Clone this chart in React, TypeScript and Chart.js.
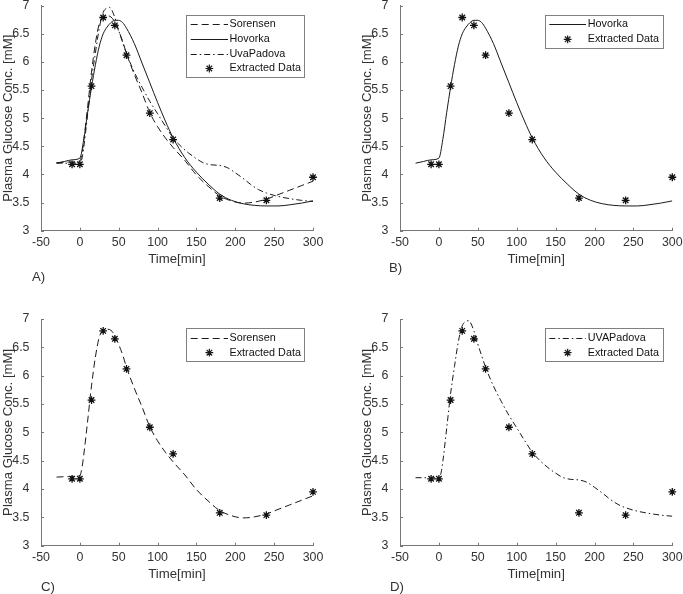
import React, { useEffect, useRef } from 'react';
import { Chart, registerables } from 'chart.js';

Chart.register(...registerables);

// ---------- data ----------
const dataTime = [-10, 0, 15, 30, 45, 60, 90, 120, 180, 240, 300];
const dataGlucose = [4.18, 4.18, 5.57, 6.79, 6.65, 6.12, 5.09, 4.62, 3.58, 3.54, 3.95];

const hovorkaTime = [-30, -20, -10, 0, 5, 10, 15, 20, 25, 30, 35, 40, 45, 50, 55, 60, 70, 80, 90, 100, 110, 120, 135, 150, 165, 180, 195, 210, 225, 240, 255, 270, 285, 300];
const hovorka = [4.2, 4.23, 4.26, 4.29, 4.62, 5.1, 5.55, 5.95, 6.28, 6.5, 6.62, 6.7, 6.74, 6.74, 6.7, 6.6, 6.33, 5.98, 5.63, 5.28, 4.95, 4.65, 4.3, 4.04, 3.83, 3.65, 3.54, 3.48, 3.45, 3.44, 3.44, 3.46, 3.49, 3.53];

const sorensenTime = [-30, -15, 0, 3, 5, 10, 15, 20, 25, 30, 35, 40, 45, 50, 55, 60, 70, 80, 90, 100, 110, 120, 135, 150, 165, 180, 195, 210, 225, 240, 255, 270, 285, 300];
const sorensen = [4.21, 4.22, 4.24, 4.4, 4.6, 5.2, 5.82, 6.33, 6.68, 6.8, 6.82, 6.8, 6.71, 6.55, 6.37, 6.15, 5.78, 5.45, 5.1, 4.85, 4.65, 4.48, 4.25, 3.99, 3.79, 3.62, 3.53, 3.49, 3.51, 3.56, 3.64, 3.72, 3.8, 3.88];

const uvaTime = [-30, -15, 0, 3, 5, 10, 15, 20, 25, 30, 35, 38, 40, 45, 50, 55, 60, 70, 80, 90, 100, 110, 120, 130, 140, 150, 160, 170, 180, 190, 200, 210, 220, 230, 240, 255, 270, 285, 300];
const uvaPadova = [4.2, 4.2, 4.2, 4.3, 4.48, 5.07, 5.68, 6.16, 6.6, 6.88, 6.96, 6.97, 6.95, 6.79, 6.56, 6.35, 6.15, 5.82, 5.55, 5.3, 5.08, 4.86, 4.65, 4.5, 4.38, 4.28, 4.2, 4.17, 4.16, 4.12, 4.03, 3.93, 3.82, 3.73, 3.67, 3.61, 3.57, 3.54, 3.52];

const xTicks = [-50, 0, 50, 100, 150, 200, 250, 300];
const yTicks = [3, 3.5, 4, 4.5, 5, 5.5, 6, 6.5, 7];

// ---------- styles ----------
const FONT = "'Liberation Sans', Arial, Helvetica, sans-serif";
const TEXT = '#333333';
const AXIS = '#777777';
const LINE = '#1a1a1a';
const W = 683;
const H = 594;
const Y_AXIS_W = 41;
const X_AXIS_H = 37;

type Model = 'sorensen' | 'hovorka' | 'uva';
const models: Record<Model, { t: number[]; v: number[]; dash: number[] }> = {
  sorensen: { t: sorensenTime, v: sorensen, dash: [7, 4] },
  hovorka: { t: hovorkaTime, v: hovorka, dash: [] },
  uva: { t: uvaTime, v: uvaPadova, dash: [6, 3, 1.5, 3] },
};

type Panel = {
  area: { left: number; top: number; right: number; bottom: number };
  series: { model: Model; name: string }[];
  legend: { x: number; y: number; w: number; rows: number[]; l0: number; l1: number; tx: number };
  label: { text: string; x: number; y: number };
};

const panels: Panel[] = [
  {
    area: { left: 41, top: 5.7, right: 313, bottom: 230.7 },
    series: [
      { model: 'sorensen', name: 'Sorensen' },
      { model: 'hovorka', name: 'Hovorka' },
      { model: 'uva', name: 'UvaPadova' },
    ],
    legend: { x: 186, y: 15, w: 118, rows: [24.3, 39, 53.7, 68.5], l0: 190.7, l1: 228, tx: 229.5 },
    label: { text: 'A)', x: 32, y: 277 },
  },
  {
    area: { left: 400, top: 5.7, right: 672.3, bottom: 230.7 },
    series: [{ model: 'hovorka', name: 'Hovorka' }],
    legend: { x: 544.6, y: 15, w: 117.7, rows: [24.3, 39.3], l0: 549.3, l1: 586, tx: 587.7 },
    label: { text: 'B)', x: 389, y: 268 },
  },
  {
    area: { left: 41, top: 319, right: 313, bottom: 545.7 },
    series: [{ model: 'sorensen', name: 'Sorensen' }],
    legend: { x: 186, y: 328.4, w: 118, rows: [337.7, 352.7], l0: 190.7, l1: 228, tx: 229.5 },
    label: { text: 'C)', x: 41, y: 587 },
  },
  {
    area: { left: 400, top: 319, right: 672.3, bottom: 545.7 },
    series: [{ model: 'uva', name: 'UVAPadova' }],
    legend: { x: 544.6, y: 328.4, w: 117.7, rows: [337.7, 352.7], l0: 549.3, l1: 586, tx: 587.7 },
    label: { text: 'D)', x: 390, y: 587 },
  },
];

function drawStar(ctx: CanvasRenderingContext2D, x: number, y: number, r: number) {
  ctx.beginPath();
  for (let k = 0; k < 4; k++) {
    const a = (k * Math.PI) / 4;
    ctx.moveTo(x + Math.cos(a) * r, y + Math.sin(a) * r);
    ctx.lineTo(x - Math.cos(a) * r, y - Math.sin(a) * r);
  }
  ctx.stroke();
}

function makeDecor(panel: Panel) {
  return {
    id: 'decor',
    afterDraw(chart: any) {
      const { ctx, chartArea, scales } = chart;
      ctx.save();
      ctx.strokeStyle = AXIS;
      ctx.lineWidth = 1;
      ctx.setLineDash([]);
      ctx.beginPath();
      for (const v of xTicks) {
        const px = Math.round(scales.x.getPixelForValue(v)) + 0.5;
        ctx.moveTo(px, chartArea.bottom);
        ctx.lineTo(px, chartArea.bottom - 3);
      }
      for (const v of yTicks) {
        const py = Math.round(scales.y.getPixelForValue(v)) + 0.5;
        ctx.moveTo(chartArea.left, py);
        ctx.lineTo(chartArea.left + 3, py);
      }
      ctx.stroke();

      // legend
      const lg = panel.legend;
      const n = panel.series.length + 1;
      const h = lg.rows[n - 1] - lg.rows[0] + 17.6;
      ctx.fillStyle = '#ffffff';
      ctx.fillRect(lg.x, lg.y, lg.w, h);
      ctx.strokeStyle = '#808080';
      ctx.lineWidth = 1;
      ctx.strokeRect(Math.round(lg.x) + 0.5, Math.round(lg.y) + 0.5, Math.round(lg.w), Math.round(h));
      ctx.font = `10.8px ${FONT}`;
      ctx.textBaseline = 'middle';
      ctx.textAlign = 'left';
      panel.series.forEach((s, i) => {
        const y = Math.round(lg.rows[i]) + 0.5;
        ctx.strokeStyle = LINE;
        ctx.lineWidth = 1;
        ctx.setLineDash(models[s.model].dash);
        ctx.beginPath();
        ctx.moveTo(lg.l0, y);
        ctx.lineTo(lg.l1, y);
        ctx.stroke();
        ctx.setLineDash([]);
        ctx.fillStyle = '#111';
        ctx.fillText(s.name, lg.tx, lg.rows[i]);
      });
      const yr = lg.rows[n - 1];
      ctx.strokeStyle = LINE;
      ctx.lineWidth = 1.2;
      drawStar(ctx, (lg.l0 + lg.l1) / 2, yr, 3.9);
      ctx.fillStyle = '#111';
      ctx.fillText('Extracted Data', lg.tx, yr);
      ctx.restore();
    },
  };
}

function PanelChart({ panel }: { panel: Panel }) {
  const ref = useRef<HTMLCanvasElement>(null);
  useEffect(() => {
    const a = panel.area;
    const fitFix = (size: 'w' | 'h') => (s: any) => {
      if (size === 'w') s.width = Y_AXIS_W;
      else s.height = X_AXIS_H;
      s.paddingLeft = 0;
      s.paddingRight = 0;
      s.paddingTop = 0;
      s.paddingBottom = 0;
    };
    const datasets: any[] = panel.series.map((s) => {
      const m = models[s.model];
      return {
        label: s.name,
        data: m.t.map((t, i) => ({ x: t, y: m.v[i] })),
        showLine: true,
        borderColor: LINE,
        borderWidth: 1,
        borderDash: m.dash,
        pointRadius: 0,
        cubicInterpolationMode: 'monotone',
        fill: false,
      };
    });
    datasets.push({
      label: 'Extracted Data',
      data: dataTime.map((t, i) => ({ x: t, y: dataGlucose[i] })),
      showLine: false,
      pointStyle: 'star',
      pointRadius: 3.9,
      borderColor: '#111',
      backgroundColor: '#111',
      pointBorderWidth: 1.3,
      clip: false,
    });
    const chart = new Chart(ref.current as HTMLCanvasElement, {
      type: 'scatter',
      data: { datasets },
      plugins: [makeDecor(panel)],
      options: {
        responsive: false,
        animation: false,
        devicePixelRatio: 1,
        events: [],
        layout: {
          padding: {
            left: a.left - Y_AXIS_W,
            top: a.top,
            right: W - a.right,
            bottom: H - a.bottom - X_AXIS_H,
          },
        },
        plugins: { legend: { display: false }, tooltip: { enabled: false } },
        scales: {
          x: {
            type: 'linear',
            min: -50,
            max: 300,
            afterFit: fitFix('h'),
            grid: { display: false, drawTicks: false },
            border: { display: true, color: AXIS, width: 1 },
            ticks: {
              stepSize: 50,
              padding: 4.5,
              maxRotation: 0,
              autoSkip: false,
              color: TEXT,
              font: { family: FONT, size: 12.4 },
              callback: (v: any) => String(v),
            },
            title: {
              display: true,
              text: 'Time[min]',
              color: TEXT,
              padding: 0,
              font: { family: FONT, size: 13.2 },
            },
          },
          y: {
            type: 'linear',
            min: 3,
            max: 7,
            afterFit: fitFix('w'),
            grid: { display: false, drawTicks: false },
            border: { display: true, color: AXIS, width: 1 },
            ticks: {
              stepSize: 0.5,
              padding: 11.5,
              autoSkip: false,
              color: TEXT,
              font: { family: FONT, size: 12.4 },
              callback: (v: any) => String(v),
            },
            title: {
              display: true,
              text: 'Plasma Glucose Conc. [mM]',
              color: TEXT,
              padding: 0,
              font: { family: FONT, size: 13.2 },
            },
          },
        },
      } as any,
    });
    return () => chart.destroy();
  }, [panel]);
  return (
    <canvas
      ref={ref}
      width={W}
      height={H}
      style={{ position: 'absolute', left: 0, top: 0, width: W, height: H }}
    />
  );
}

export default function App() {
  return (
    <div style={{ position: 'absolute', left: 0, top: 0, width: W, height: H, background: '#fff', overflow: 'hidden' }}>
      {panels.map((p, i) => (
        <PanelChart key={i} panel={p} />
      ))}
      {panels.map((p, i) => (
        <div
          key={'l' + i}
          style={{
            position: 'absolute',
            left: p.label.x,
            top: p.label.y - 8,
            height: 16,
            lineHeight: '16px',
            fontFamily: FONT,
            fontSize: 13.2,
            color: TEXT,
          }}
        >
          {p.label.text}
        </div>
      ))}
    </div>
  );
}
